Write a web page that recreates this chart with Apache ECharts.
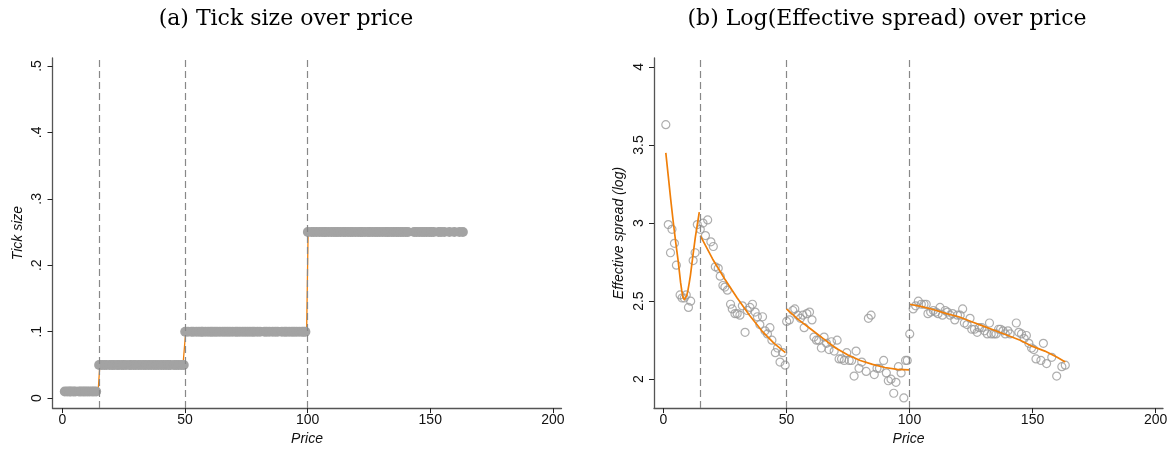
<!DOCTYPE html>
<html>
<head>
<meta charset="utf-8">
<script src="https://cdn.jsdelivr.net/npm/echarts@6/dist/echarts.min.js"></script>
<style>
  html, body { margin: 0; padding: 0; background: #fff; }
  #main { width: 1172px; height: 451px; }
</style>
</head>
<body>
<div id="main"></div>
<script>
// tick size schedule (panel a)
var tickBreaks = [15, 50, 100];
var tickValues = [0.01, 0.05, 0.1, 0.25];
// orange fit in panel a (step with short ramps)
var tickFitPrice = [1.5, 14.6, 15.3, 49.2, 50.3, 99.6, 100.2, 161.5];
var tickFitValue = [0.01, 0.01, 0.05, 0.05, 0.1, 0.1, 0.25, 0.25];

// binned price / log effective spread (panel b)
var spreadPrice = [
  1.0, 2.0, 2.9, 3.5, 4.5, 5.3, 6.8, 7.6, 8.5, 9.3, 10.2, 11.1, 12.1, 12.9, 13.8,
  15.0, 16.1, 17.1, 18.0, 19.3, 20.3, 21.1, 22.3, 23.1, 24.2, 25.0, 26.0, 27.3, 28.0, 29.1,
  30.0, 31.1, 32.1, 33.2, 34.1, 35.2, 36.2, 37.3, 38.2, 39.2, 40.3, 41.3, 42.3, 43.3, 44.1,
  45.5, 46.4, 47.4, 48.5, 49.5,
  50.1, 51.2, 52.6, 53.4, 54.6, 55.7, 56.7, 57.2, 58.3, 59.4, 60.4, 61.2, 62.2, 63.1, 64.2,
  65.3, 66.3, 67.3, 68.3, 69.4, 70.6, 71.4, 72.4, 73.5, 74.5, 75.5, 76.5, 77.5, 78.3, 79.5,
  80.6, 82.4, 83.3, 84.4, 85.7, 86.8, 87.8, 89.5, 90.6, 91.4, 92.5, 93.6, 94.5, 95.5, 96.6,
  97.7, 98.4, 99.1,
  100.1, 101.5, 102.5, 103.6, 104.8, 105.9, 106.8, 107.5, 108.6, 109.7, 110.7, 111.6, 112.4, 113.4, 114.5,
  115.4, 116.5, 117.5, 118.4, 119.5, 120.6, 121.6, 122.3, 123.4, 124.6, 125.3, 126.4, 127.5, 128.4, 129.4,
  130.5, 131.6, 132.5, 133.2, 134.3, 135.2, 136.2, 137.0, 138.0, 138.9, 140.0, 140.9, 143.4, 144.4, 145.5,
  146.6, 147.5, 148.5, 149.6, 150.5, 151.4, 153.4, 154.4, 155.7, 157.8, 159.8, 161.9, 163.3
];
var spreadValue = [
  3.63, 2.99, 2.81, 2.96, 2.87, 2.73, 2.54, 2.52, 2.52, 2.54, 2.46, 2.50, 2.76, 2.81, 2.99,
  2.96, 3.00, 2.92, 3.02, 2.88, 2.85, 2.72, 2.71, 2.66, 2.60, 2.59, 2.57, 2.48, 2.45, 2.42,
  2.42, 2.41, 2.47, 2.30, 2.44, 2.46, 2.48, 2.43, 2.40, 2.35, 2.40, 2.31, 2.29, 2.33, 2.25,
  2.17, 2.20, 2.11, 2.17, 2.09,
  2.37, 2.38, 2.44, 2.45, 2.41, 2.39, 2.41, 2.33, 2.42, 2.43, 2.38, 2.27, 2.25, 2.25, 2.20,
  2.27, 2.23, 2.19, 2.24, 2.18, 2.25, 2.13, 2.13, 2.12, 2.17, 2.12, 2.12, 2.02, 2.18, 2.07,
  2.11, 2.05, 2.39, 2.41, 2.03, 2.07, 2.07, 2.12, 2.04, 1.99, 2.00, 1.91, 1.98, 2.08, 2.04,
  1.88, 2.12, 2.12,
  2.29, 2.45, 2.47, 2.50, 2.48, 2.48, 2.48, 2.42, 2.43, 2.44, 2.43, 2.42, 2.46, 2.41, 2.44,
  2.43, 2.41, 2.42, 2.38, 2.41, 2.41, 2.45, 2.36, 2.35, 2.39, 2.32, 2.32, 2.30, 2.33, 2.33,
  2.31, 2.29, 2.36, 2.29, 2.29, 2.29, 2.32, 2.32, 2.31, 2.29, 2.31, 2.29, 2.36, 2.30, 2.29,
  2.26, 2.28, 2.23, 2.20, 2.19, 2.13, 2.12, 2.23, 2.10, 2.14, 2.02, 2.08, 2.09
];

// fitted curves, one per price band
var fitPrice = [
  [1.0, 2.0, 3.0, 4.0, 5.0, 6.0, 6.5, 7.0, 7.5, 8.0, 8.5, 9.0, 9.5, 10.0, 10.5, 11.0, 12.0, 13.0, 14.0, 14.6],
  [15.0, 20.0, 25.0, 30.0, 35.0, 40.0, 45.0, 49.6],
  [50.0, 55.0, 60.0, 65.0, 70.0, 75.0, 80.0, 85.0, 90.0, 95.0, 100.0],
  [100.1, 105.0, 110.0, 115.0, 120.0, 125.0, 130.0, 135.0, 140.0, 145.0, 150.0, 155.0, 160.0, 163.3]
];
var fitValue = [
  [3.45, 3.30, 3.15, 3.01, 2.88, 2.76, 2.69, 2.62, 2.565, 2.525, 2.51, 2.515, 2.535, 2.57, 2.615, 2.665, 2.79, 2.91, 3.01, 3.07],
  [2.92, 2.77, 2.64, 2.52, 2.41, 2.31, 2.23, 2.17],
  [2.45, 2.38, 2.32, 2.26, 2.20, 2.155, 2.12, 2.095, 2.075, 2.063, 2.06],
  [2.48, 2.465, 2.445, 2.42, 2.40, 2.37, 2.34, 2.31, 2.28, 2.25, 2.21, 2.18, 2.14, 2.11]
];

var cutoffs = [15, 50, 100];

var chart = echarts.init(document.getElementById('main'));

var tickDots = spreadPrice.map(function (p) {
  var k = 0;
  while (k < tickBreaks.length && p >= tickBreaks[k]) k++;
  return [p, tickValues[k]];
});

var orange = '#f07f09';
var labelFont = '"Liberation Sans", Arial, sans-serif';

function xAxisFor(idx, min, max) {
  return {
    gridIndex: idx, type: 'value', min: min, max: max,
    name: 'Price', nameLocation: 'middle', nameGap: 22,
    nameTextStyle: { fontFamily: labelFont, fontStyle: 'italic', fontSize: 14, color: '#111' },
    axisLine: { onZero: false, lineStyle: { color: '#555', width: 1.3 } },
    axisTick: { show: true, length: 5, lineStyle: { color: '#222' }, customValues: [0, 50, 100, 150, 200] },
    axisLabel: { fontFamily: labelFont, fontSize: 14, color: '#111', margin: 5, customValues: [0, 50, 100, 150, 200] },
    splitLine: { show: false }
  };
}

var series = [];
// panel a
series.push({
  type: 'line', xAxisIndex: 0, yAxisIndex: 0, showSymbol: false, z: 2,
  data: tickFitPrice.map(function (p, i) { return [p, tickFitValue[i]]; }),
  lineStyle: { color: orange, width: 1.3 },
  markLine: {
    silent: true, symbol: 'none', label: { show: false },
    lineStyle: { color: '#888', type: [7, 4], width: 1.2 },
    data: cutoffs.map(function (c) { return { xAxis: c }; })
  }
});
series.push({
  type: 'scatter', xAxisIndex: 0, yAxisIndex: 0, z: 3,
  symbolSize: 10, data: tickDots,
  itemStyle: { color: '#a3a3a3', opacity: 1 }
});
// panel b
series.push({
  type: 'scatter', xAxisIndex: 1, yAxisIndex: 1, z: 2,
  symbolSize: 8,
  data: spreadPrice.map(function (p, i) { return [p, spreadValue[i]]; }),
  itemStyle: { color: 'rgba(255,255,255,0)', borderColor: '#9a9a9a', borderWidth: 1.2 },
  markLine: {
    silent: true, symbol: 'none', label: { show: false },
    lineStyle: { color: '#888', type: [7, 4], width: 1.2 },
    data: cutoffs.map(function (c) { return { xAxis: c }; })
  }
});
fitPrice.forEach(function (xs, s) {
  series.push({
    type: 'line', xAxisIndex: 1, yAxisIndex: 1, showSymbol: false, z: 4,
    smooth: false,
    data: xs.map(function (p, i) { return [p, fitValue[s][i]]; }),
    lineStyle: { color: orange, width: 1.7, join: 'round' }
  });
});

var titleStyle = { fontFamily: 'DejaVu Serif', fontWeight: 'normal', fontSize: 22, color: '#000' };

var option = {
  backgroundColor: '#ffffff',
  animation: false,
  title: [
    { text: '(a) Tick size over price', left: 281, top: 3, textAlign: 'center', textStyle: titleStyle },
    { text: '(b) Log(Effective spread) over price', left: 882, top: 3, textAlign: 'center', textStyle: titleStyle }
  ],
  grid: [
    { left: 52.5, top: 58, width: 509, height: 352 },
    { left: 654, top: 58, width: 509, height: 352 }
  ],
  xAxis: [xAxisFor(0, -4, 203.5), xAxisFor(1, -3.8, 203)],
  yAxis: [
    {
      gridIndex: 0, type: 'value', min: -0.015, max: 0.512,
      name: 'Tick size', nameLocation: 'middle', nameGap: 27,
      nameTextStyle: { fontFamily: labelFont, fontStyle: 'italic', fontSize: 14, color: '#111' },
      axisLine: { show: true, onZero: false, lineStyle: { color: '#555', width: 1.3 } },
      axisTick: { show: true, length: 5, lineStyle: { color: '#222' }, customValues: [0, 0.1, 0.2, 0.3, 0.4, 0.5] },
      axisLabel: {
        fontFamily: labelFont, fontSize: 14, color: '#111', rotate: 90, margin: 8,
        customValues: [0, 0.1, 0.2, 0.3, 0.4, 0.5],
        formatter: function (v) { return v === 0 ? '0' : String(+v.toFixed(2)).replace(/^0\./, '.'); }
      },
      splitLine: { show: false }
    },
    {
      gridIndex: 1, type: 'value', min: 1.815, max: 4.057,
      name: 'Effective spread (log)', nameLocation: 'middle', nameGap: 28,
      nameTextStyle: { fontFamily: labelFont, fontStyle: 'italic', fontSize: 14, color: '#111' },
      axisLine: { show: true, onZero: false, lineStyle: { color: '#555', width: 1.3 } },
      axisTick: { show: true, length: 5, lineStyle: { color: '#222' }, customValues: [2, 2.5, 3, 3.5, 4] },
      axisLabel: {
        fontFamily: labelFont, fontSize: 14, color: '#111', rotate: 90, margin: 8,
        customValues: [2, 2.5, 3, 3.5, 4]
      },
      splitLine: { show: false }
    }
  ],
  series: series
};

chart.setOption(option);
</script>
</body>
</html>
